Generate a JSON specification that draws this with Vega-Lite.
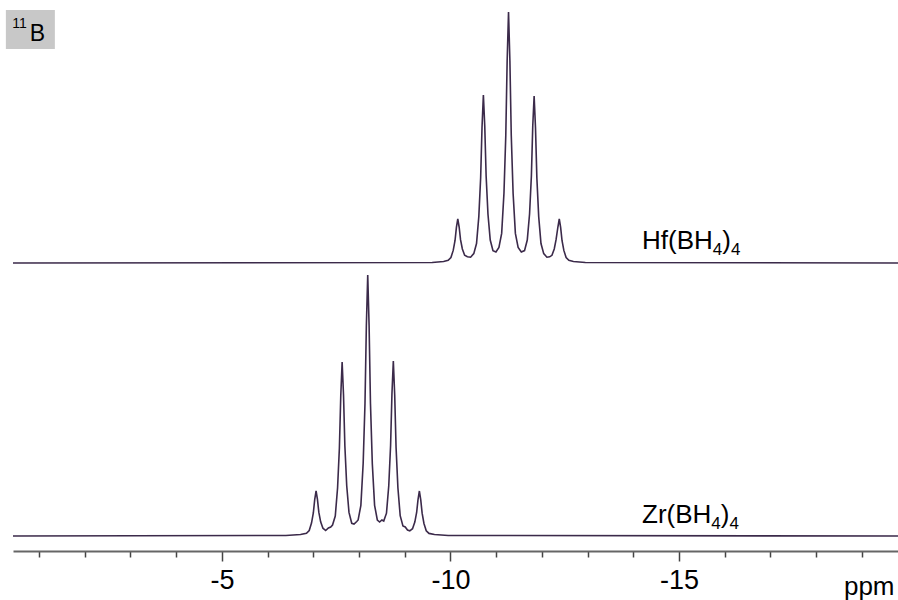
{
  "$schema": "https://vega.github.io/schema/vega-lite/v6.json",
  "width": 885,
  "height": 551,
  "autosize": {"type": "none"},
  "padding": {"left": 13, "top": 0, "right": 0, "bottom": 49},
  "background": "white",
  "config": {"view": {"stroke": null}, "font": "Liberation Sans"},
  "data": {"values": [{}]},
  "datasets": {
    "spectra": [
      {"spectrum": "Hf(BH4)4", "ppm": -0.43, "intensity": 288},
      {"spectrum": "Hf(BH4)4", "ppm": -9.60, "intensity": 288.5},
      {"spectrum": "Hf(BH4)4", "ppm": -9.85, "intensity": 289.5},
      {"spectrum": "Hf(BH4)4", "ppm": -9.95, "intensity": 290.7},
      {"spectrum": "Hf(BH4)4", "ppm": -10.01, "intensity": 293.5},
      {"spectrum": "Hf(BH4)4", "ppm": -10.06, "intensity": 300.6},
      {"spectrum": "Hf(BH4)4", "ppm": -10.10, "intensity": 310.5},
      {"spectrum": "Hf(BH4)4", "ppm": -10.13, "intensity": 323.6},
      {"spectrum": "Hf(BH4)4", "ppm": -10.16, "intensity": 332},
      {"spectrum": "Hf(BH4)4", "ppm": -10.19, "intensity": 324},
      {"spectrum": "Hf(BH4)4", "ppm": -10.22, "intensity": 311.3},
      {"spectrum": "Hf(BH4)4", "ppm": -10.26, "intensity": 302},
      {"spectrum": "Hf(BH4)4", "ppm": -10.31, "intensity": 295.7},
      {"spectrum": "Hf(BH4)4", "ppm": -10.37, "intensity": 294.2},
      {"spectrum": "Hf(BH4)4", "ppm": -10.44, "intensity": 293.8},
      {"spectrum": "Hf(BH4)4", "ppm": -10.51, "intensity": 297.4},
      {"spectrum": "Hf(BH4)4", "ppm": -10.57, "intensity": 307.5},
      {"spectrum": "Hf(BH4)4", "ppm": -10.62, "intensity": 334.4},
      {"spectrum": "Hf(BH4)4", "ppm": -10.66, "intensity": 373},
      {"spectrum": "Hf(BH4)4", "ppm": -10.69, "intensity": 423.4},
      {"spectrum": "Hf(BH4)4", "ppm": -10.72, "intensity": 456},
      {"spectrum": "Hf(BH4)4", "ppm": -10.75, "intensity": 425},
      {"spectrum": "Hf(BH4)4", "ppm": -10.78, "intensity": 375},
      {"spectrum": "Hf(BH4)4", "ppm": -10.82, "intensity": 337},
      {"spectrum": "Hf(BH4)4", "ppm": -10.87, "intensity": 311},
      {"spectrum": "Hf(BH4)4", "ppm": -10.93, "intensity": 300.4},
      {"spectrum": "Hf(BH4)4", "ppm": -10.995, "intensity": 299},
      {"spectrum": "Hf(BH4)4", "ppm": -11.06, "intensity": 303.5},
      {"spectrum": "Hf(BH4)4", "ppm": -11.12, "intensity": 317.6},
      {"spectrum": "Hf(BH4)4", "ppm": -11.17, "intensity": 357.8},
      {"spectrum": "Hf(BH4)4", "ppm": -11.21, "intensity": 415.5},
      {"spectrum": "Hf(BH4)4", "ppm": -11.24, "intensity": 490.3},
      {"spectrum": "Hf(BH4)4", "ppm": -11.27, "intensity": 539},
      {"spectrum": "Hf(BH4)4", "ppm": -11.30, "intensity": 490.3},
      {"spectrum": "Hf(BH4)4", "ppm": -11.33, "intensity": 415.5},
      {"spectrum": "Hf(BH4)4", "ppm": -11.37, "intensity": 357.8},
      {"spectrum": "Hf(BH4)4", "ppm": -11.42, "intensity": 317.6},
      {"spectrum": "Hf(BH4)4", "ppm": -11.48, "intensity": 303.5},
      {"spectrum": "Hf(BH4)4", "ppm": -11.55, "intensity": 299},
      {"spectrum": "Hf(BH4)4", "ppm": -11.62, "intensity": 300.4},
      {"spectrum": "Hf(BH4)4", "ppm": -11.68, "intensity": 311},
      {"spectrum": "Hf(BH4)4", "ppm": -11.73, "intensity": 337},
      {"spectrum": "Hf(BH4)4", "ppm": -11.77, "intensity": 375},
      {"spectrum": "Hf(BH4)4", "ppm": -11.80, "intensity": 425},
      {"spectrum": "Hf(BH4)4", "ppm": -11.83, "intensity": 455},
      {"spectrum": "Hf(BH4)4", "ppm": -11.86, "intensity": 423.4},
      {"spectrum": "Hf(BH4)4", "ppm": -11.89, "intensity": 373},
      {"spectrum": "Hf(BH4)4", "ppm": -11.93, "intensity": 334.4},
      {"spectrum": "Hf(BH4)4", "ppm": -11.98, "intensity": 307.5},
      {"spectrum": "Hf(BH4)4", "ppm": -12.04, "intensity": 297.4},
      {"spectrum": "Hf(BH4)4", "ppm": -12.11, "intensity": 293.8},
      {"spectrum": "Hf(BH4)4", "ppm": -12.17, "intensity": 294.2},
      {"spectrum": "Hf(BH4)4", "ppm": -12.22, "intensity": 295.7},
      {"spectrum": "Hf(BH4)4", "ppm": -12.27, "intensity": 302},
      {"spectrum": "Hf(BH4)4", "ppm": -12.31, "intensity": 311.3},
      {"spectrum": "Hf(BH4)4", "ppm": -12.35, "intensity": 324},
      {"spectrum": "Hf(BH4)4", "ppm": -12.38, "intensity": 332},
      {"spectrum": "Hf(BH4)4", "ppm": -12.41, "intensity": 323.6},
      {"spectrum": "Hf(BH4)4", "ppm": -12.44, "intensity": 310.5},
      {"spectrum": "Hf(BH4)4", "ppm": -12.48, "intensity": 300.6},
      {"spectrum": "Hf(BH4)4", "ppm": -12.53, "intensity": 293.5},
      {"spectrum": "Hf(BH4)4", "ppm": -12.59, "intensity": 290.7},
      {"spectrum": "Hf(BH4)4", "ppm": -12.69, "intensity": 289.5},
      {"spectrum": "Hf(BH4)4", "ppm": -12.95, "intensity": 288.5},
      {"spectrum": "Hf(BH4)4", "ppm": -19.79, "intensity": 288},
      {"spectrum": "Zr(BH4)4", "ppm": -0.43, "intensity": 15},
      {"spectrum": "Zr(BH4)4", "ppm": -6.40, "intensity": 15.5},
      {"spectrum": "Zr(BH4)4", "ppm": -6.72, "intensity": 16.5},
      {"spectrum": "Zr(BH4)4", "ppm": -6.85, "intensity": 17.7},
      {"spectrum": "Zr(BH4)4", "ppm": -6.91, "intensity": 20.5},
      {"spectrum": "Zr(BH4)4", "ppm": -6.96, "intensity": 27.9},
      {"spectrum": "Zr(BH4)4", "ppm": -7.00, "intensity": 38},
      {"spectrum": "Zr(BH4)4", "ppm": -7.03, "intensity": 51.4},
      {"spectrum": "Zr(BH4)4", "ppm": -7.06, "intensity": 60},
      {"spectrum": "Zr(BH4)4", "ppm": -7.09, "intensity": 51.7},
      {"spectrum": "Zr(BH4)4", "ppm": -7.12, "intensity": 38.8},
      {"spectrum": "Zr(BH4)4", "ppm": -7.16, "intensity": 29.2},
      {"spectrum": "Zr(BH4)4", "ppm": -7.21, "intensity": 22.8},
      {"spectrum": "Zr(BH4)4", "ppm": -7.27, "intensity": 20.5},
      {"spectrum": "Zr(BH4)4", "ppm": -7.33, "intensity": 23},
      {"spectrum": "Zr(BH4)4", "ppm": -7.38, "intensity": 24},
      {"spectrum": "Zr(BH4)4", "ppm": -7.42, "intensity": 26},
      {"spectrum": "Zr(BH4)4", "ppm": -7.48, "intensity": 35},
      {"spectrum": "Zr(BH4)4", "ppm": -7.53, "intensity": 63},
      {"spectrum": "Zr(BH4)4", "ppm": -7.57, "intensity": 103},
      {"spectrum": "Zr(BH4)4", "ppm": -7.60, "intensity": 155},
      {"spectrum": "Zr(BH4)4", "ppm": -7.63, "intensity": 189},
      {"spectrum": "Zr(BH4)4", "ppm": -7.66, "intensity": 156.5},
      {"spectrum": "Zr(BH4)4", "ppm": -7.69, "intensity": 105},
      {"spectrum": "Zr(BH4)4", "ppm": -7.73, "intensity": 65.5},
      {"spectrum": "Zr(BH4)4", "ppm": -7.78, "intensity": 38.6},
      {"spectrum": "Zr(BH4)4", "ppm": -7.84, "intensity": 27.7},
      {"spectrum": "Zr(BH4)4", "ppm": -7.89, "intensity": 27},
      {"spectrum": "Zr(BH4)4", "ppm": -7.95, "intensity": 29.5},
      {"spectrum": "Zr(BH4)4", "ppm": -7.98, "intensity": 31},
      {"spectrum": "Zr(BH4)4", "ppm": -8.04, "intensity": 45.7},
      {"spectrum": "Zr(BH4)4", "ppm": -8.09, "intensity": 87.5},
      {"spectrum": "Zr(BH4)4", "ppm": -8.13, "intensity": 147.5},
      {"spectrum": "Zr(BH4)4", "ppm": -8.16, "intensity": 225.3},
      {"spectrum": "Zr(BH4)4", "ppm": -8.19, "intensity": 276},
      {"spectrum": "Zr(BH4)4", "ppm": -8.22, "intensity": 225.3},
      {"spectrum": "Zr(BH4)4", "ppm": -8.25, "intensity": 147.5},
      {"spectrum": "Zr(BH4)4", "ppm": -8.29, "intensity": 87.5},
      {"spectrum": "Zr(BH4)4", "ppm": -8.34, "intensity": 45.7},
      {"spectrum": "Zr(BH4)4", "ppm": -8.40, "intensity": 31},
      {"spectrum": "Zr(BH4)4", "ppm": -8.45, "intensity": 29},
      {"spectrum": "Zr(BH4)4", "ppm": -8.50, "intensity": 31},
      {"spectrum": "Zr(BH4)4", "ppm": -8.54, "intensity": 30},
      {"spectrum": "Zr(BH4)4", "ppm": -8.60, "intensity": 37.8},
      {"spectrum": "Zr(BH4)4", "ppm": -8.65, "intensity": 65.3},
      {"spectrum": "Zr(BH4)4", "ppm": -8.69, "intensity": 105.5},
      {"spectrum": "Zr(BH4)4", "ppm": -8.72, "intensity": 157.5},
      {"spectrum": "Zr(BH4)4", "ppm": -8.75, "intensity": 190},
      {"spectrum": "Zr(BH4)4", "ppm": -8.78, "intensity": 156},
      {"spectrum": "Zr(BH4)4", "ppm": -8.81, "intensity": 103.5},
      {"spectrum": "Zr(BH4)4", "ppm": -8.85, "intensity": 63.3},
      {"spectrum": "Zr(BH4)4", "ppm": -8.90, "intensity": 35.3},
      {"spectrum": "Zr(BH4)4", "ppm": -8.96, "intensity": 25},
      {"spectrum": "Zr(BH4)4", "ppm": -9.01, "intensity": 24},
      {"spectrum": "Zr(BH4)4", "ppm": -9.06, "intensity": 21},
      {"spectrum": "Zr(BH4)4", "ppm": -9.11, "intensity": 20.2},
      {"spectrum": "Zr(BH4)4", "ppm": -9.17, "intensity": 22.3},
      {"spectrum": "Zr(BH4)4", "ppm": -9.22, "intensity": 28.9},
      {"spectrum": "Zr(BH4)4", "ppm": -9.26, "intensity": 38.5},
      {"spectrum": "Zr(BH4)4", "ppm": -9.29, "intensity": 51.4},
      {"spectrum": "Zr(BH4)4", "ppm": -9.32, "intensity": 60},
      {"spectrum": "Zr(BH4)4", "ppm": -9.35, "intensity": 51.2},
      {"spectrum": "Zr(BH4)4", "ppm": -9.38, "intensity": 37.8},
      {"spectrum": "Zr(BH4)4", "ppm": -9.42, "intensity": 27.5},
      {"spectrum": "Zr(BH4)4", "ppm": -9.47, "intensity": 20.3},
      {"spectrum": "Zr(BH4)4", "ppm": -9.53, "intensity": 17.6},
      {"spectrum": "Zr(BH4)4", "ppm": -9.65, "intensity": 16.5},
      {"spectrum": "Zr(BH4)4", "ppm": -9.95, "intensity": 15.5},
      {"spectrum": "Zr(BH4)4", "ppm": -19.79, "intensity": 15}
    ]
  },
  "layer": [
    {
      "data": {"name": "spectra"},
      "mark": {"type": "line", "color": "#3b2a4a", "strokeWidth": 1.6, "interpolate": "linear"},
      "encoding": {
        "x": {
          "field": "ppm",
          "type": "quantitative",
          "scale": {"domain": [-19.79, -0.43], "reverse": true, "nice": false, "zero": false},
          "axis": {
            "values": [-1, -2, -3, -4, -5, -6, -7, -8, -9, -10, -11, -12, -13, -14, -15, -16, -17, -18, -19],
            "labelExpr": "datum.value % 5 === 0 ? '' + datum.value : ''",
            "labelFont": "Liberation Sans",
            "labelFontSize": 27,
            "labelColor": "#000000",
            "labelBaseline": "alphabetic",
            "labelPadding": 27.5,
            "labelOverlap": false,
            "labelFlush": false,
            "tickSize": {"condition": {"test": "datum.value % 5 === 0", "value": 10}, "value": 6},
            "tickColor": "#444444",
            "tickWidth": 1.5,
            "domainColor": "#666666",
            "domainWidth": 2,
            "grid": false,
            "title": "ppm",
            "titleFont": "Liberation Sans",
            "titleFontSize": 26,
            "titleFontWeight": "normal",
            "titleColor": "#000000",
            "titleAnchor": "end",
            "titleAlign": "right",
            "titleBaseline": "alphabetic",
            "titleX": 881,
            "titleY": 43
          }
        },
        "y": {
          "field": "intensity",
          "type": "quantitative",
          "scale": {"domain": [0, 551], "nice": false, "zero": false},
          "axis": null
        },
        "detail": {"field": "spectrum", "type": "nominal"}
      }
    },
    {
      "mark": {"type": "rect", "color": "#c8c8c8"},
      "encoding": {
        "x": {"datum": -0.274, "type": "quantitative"},
        "x2": {"datum": -1.346},
        "y": {"datum": 541, "type": "quantitative"},
        "y2": {"datum": 502}
      }
    },
    {
      "mark": {"type": "text", "text": "11", "font": "Liberation Sans", "fontSize": 14, "align": "left", "baseline": "alphabetic", "color": "#000000"},
      "encoding": {
        "x": {"datum": -0.416, "type": "quantitative"},
        "y": {"datum": 523.3, "type": "quantitative"}
      }
    },
    {
      "mark": {"type": "text", "text": "B", "font": "Liberation Sans", "fontSize": 23, "align": "left", "baseline": "alphabetic", "color": "#000000"},
      "encoding": {
        "x": {"datum": -0.799, "type": "quantitative"},
        "y": {"datum": 510.3, "type": "quantitative"}
      }
    },
    {
      "mark": {"type": "text", "text": "Hf(BH", "font": "Liberation Sans", "fontSize": 26, "align": "left", "baseline": "alphabetic", "color": "#000000"},
      "encoding": {
        "x": {"datum": -14.19, "type": "quantitative"},
        "y": {"datum": 302, "type": "quantitative"}
      }
    },
    {
      "mark": {"type": "text", "text": "4", "font": "Liberation Sans", "fontSize": 17, "align": "left", "baseline": "alphabetic", "color": "#000000"},
      "encoding": {
        "x": {"datum": -15.74, "type": "quantitative"},
        "y": {"datum": 296, "type": "quantitative"}
      }
    },
    {
      "mark": {"type": "text", "text": ")", "font": "Liberation Sans", "fontSize": 26, "align": "left", "baseline": "alphabetic", "color": "#000000"},
      "encoding": {
        "x": {"datum": -15.947, "type": "quantitative"},
        "y": {"datum": 302, "type": "quantitative"}
      }
    },
    {
      "mark": {"type": "text", "text": "4", "font": "Liberation Sans", "fontSize": 17, "align": "left", "baseline": "alphabetic", "color": "#000000"},
      "encoding": {
        "x": {"datum": -16.138, "type": "quantitative"},
        "y": {"datum": 296, "type": "quantitative"}
      }
    },
    {
      "mark": {"type": "text", "text": "Zr(BH", "font": "Liberation Sans", "fontSize": 26, "align": "left", "baseline": "alphabetic", "color": "#000000"},
      "encoding": {
        "x": {"datum": -14.19, "type": "quantitative"},
        "y": {"datum": 28, "type": "quantitative"}
      }
    },
    {
      "mark": {"type": "text", "text": "4", "font": "Liberation Sans", "fontSize": 17, "align": "left", "baseline": "alphabetic", "color": "#000000"},
      "encoding": {
        "x": {"datum": -15.707, "type": "quantitative"},
        "y": {"datum": 22, "type": "quantitative"}
      }
    },
    {
      "mark": {"type": "text", "text": ")", "font": "Liberation Sans", "fontSize": 26, "align": "left", "baseline": "alphabetic", "color": "#000000"},
      "encoding": {
        "x": {"datum": -15.914, "type": "quantitative"},
        "y": {"datum": 28, "type": "quantitative"}
      }
    },
    {
      "mark": {"type": "text", "text": "4", "font": "Liberation Sans", "fontSize": 17, "align": "left", "baseline": "alphabetic", "color": "#000000"},
      "encoding": {
        "x": {"datum": -16.105, "type": "quantitative"},
        "y": {"datum": 22, "type": "quantitative"}
      }
    }
  ]
}
